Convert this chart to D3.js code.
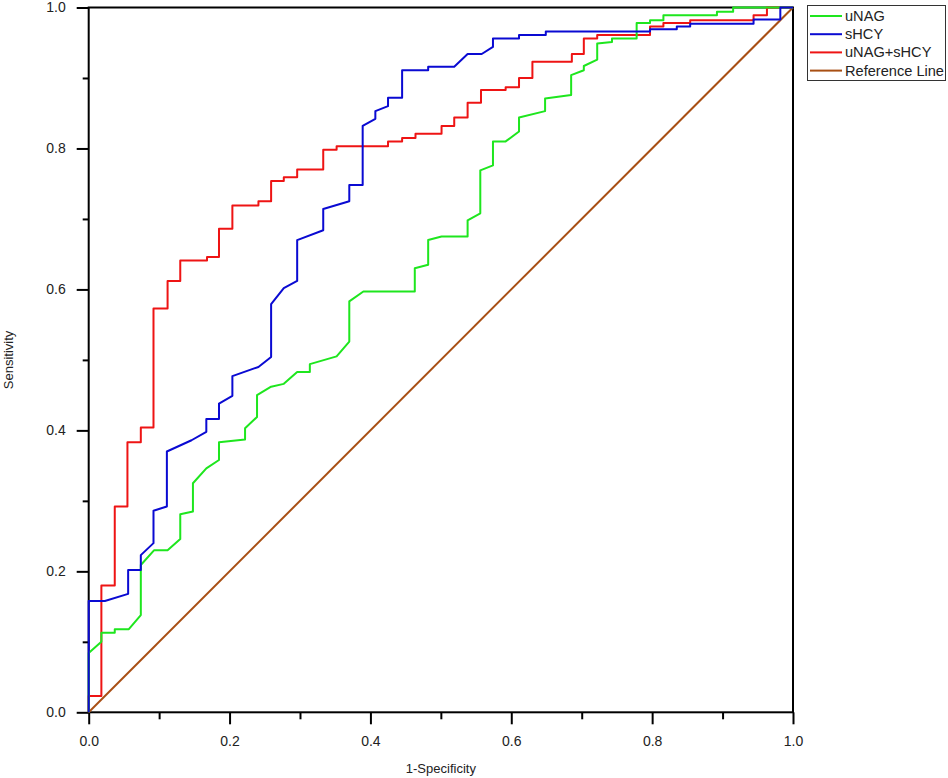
<!DOCTYPE html>
<html lang="en">
<head>
  <meta charset="UTF-8">
  <title>ROC curves</title>
  <script src="https://d3js.org/d3.v7.min.js"></script>
  <style>
    body { margin: 0; background: #fff; }
    text { font-family: "Liberation Sans", Arial, sans-serif; fill: #222; }
    .curve { fill: none; stroke-width: 2; stroke-linejoin: round; }
  </style>
</head>
<body>
<script>
  // ROC points: [1-specificity, sensitivity]
  const uNAG = [
    [0, 0], [0, 0.084], [0.018, 0.100], [0.018, 0.113], [0.037, 0.113], [0.037, 0.118],
    [0.057, 0.118], [0.074, 0.138], [0.074, 0.209], [0.093, 0.230], [0.112, 0.230],
    [0.130, 0.246], [0.130, 0.281], [0.148, 0.285], [0.148, 0.325], [0.167, 0.346],
    [0.185, 0.358], [0.185, 0.383], [0.222, 0.387], [0.222, 0.403], [0.239, 0.419],
    [0.239, 0.450], [0.259, 0.462], [0.277, 0.466], [0.296, 0.483], [0.314, 0.483],
    [0.314, 0.494], [0.352, 0.505], [0.370, 0.526], [0.370, 0.583], [0.390, 0.597],
    [0.463, 0.597], [0.463, 0.630], [0.482, 0.635], [0.482, 0.670], [0.501, 0.675],
    [0.538, 0.675], [0.538, 0.698], [0.556, 0.708], [0.556, 0.769], [0.574, 0.776],
    [0.574, 0.810], [0.592, 0.810], [0.611, 0.824], [0.611, 0.844], [0.648, 0.853],
    [0.648, 0.871], [0.685, 0.876], [0.685, 0.904], [0.703, 0.911], [0.703, 0.917],
    [0.722, 0.926], [0.722, 0.949], [0.743, 0.951], [0.743, 0.956], [0.778, 0.956],
    [0.778, 0.978], [0.797, 0.978], [0.797, 0.982], [0.816, 0.982], [0.816, 0.989],
    [0.892, 0.989], [0.892, 0.994], [0.915, 0.994], [0.915, 1], [1, 1]
  ];

  const sHCY = [
    [0, 0], [0, 0.158], [0.023, 0.158], [0.056, 0.168], [0.056, 0.202], [0.074, 0.202],
    [0.074, 0.223], [0.092, 0.240], [0.092, 0.286], [0.111, 0.292], [0.111, 0.370],
    [0.146, 0.386], [0.167, 0.398], [0.167, 0.416], [0.185, 0.416], [0.185, 0.438],
    [0.204, 0.449], [0.204, 0.477], [0.241, 0.490], [0.259, 0.504], [0.259, 0.579],
    [0.277, 0.602], [0.296, 0.612], [0.296, 0.670], [0.333, 0.684], [0.333, 0.714],
    [0.370, 0.725], [0.370, 0.748], [0.389, 0.748], [0.389, 0.832], [0.407, 0.842],
    [0.407, 0.853], [0.425, 0.860], [0.425, 0.872], [0.445, 0.872], [0.445, 0.911],
    [0.482, 0.911], [0.482, 0.916], [0.519, 0.916], [0.538, 0.934], [0.558, 0.934],
    [0.574, 0.944], [0.574, 0.956], [0.611, 0.956], [0.611, 0.961], [0.649, 0.961],
    [0.649, 0.966], [0.797, 0.966], [0.797, 0.969], [0.835, 0.969], [0.835, 0.973],
    [0.854, 0.973], [0.854, 0.977], [0.944, 0.977], [0.944, 0.983], [0.982, 0.983],
    [0.982, 1], [1, 1]
  ];

  const combined = [
    [0, 0], [0, 0.023], [0.018, 0.023], [0.018, 0.180], [0.037, 0.180], [0.037, 0.292],
    [0.055, 0.292], [0.055, 0.383], [0.074, 0.383], [0.074, 0.404], [0.092, 0.404],
    [0.092, 0.573], [0.112, 0.573], [0.112, 0.612], [0.130, 0.612], [0.130, 0.641],
    [0.168, 0.641], [0.168, 0.646], [0.185, 0.646], [0.185, 0.686], [0.204, 0.686],
    [0.204, 0.719], [0.241, 0.719], [0.241, 0.725], [0.259, 0.725], [0.259, 0.754],
    [0.277, 0.754], [0.277, 0.759], [0.296, 0.759], [0.296, 0.770], [0.333, 0.770],
    [0.333, 0.798], [0.352, 0.798], [0.352, 0.803], [0.425, 0.803], [0.425, 0.810],
    [0.445, 0.810], [0.445, 0.815], [0.464, 0.815], [0.464, 0.821], [0.501, 0.821],
    [0.501, 0.832], [0.519, 0.832], [0.519, 0.844], [0.538, 0.844], [0.538, 0.865],
    [0.557, 0.865], [0.557, 0.883], [0.592, 0.883], [0.592, 0.887], [0.611, 0.887],
    [0.611, 0.900], [0.630, 0.900], [0.630, 0.923], [0.686, 0.923], [0.686, 0.934],
    [0.703, 0.934], [0.703, 0.956], [0.722, 0.956], [0.722, 0.961], [0.797, 0.961],
    [0.797, 0.973], [0.816, 0.973], [0.816, 0.978], [0.854, 0.978], [0.854, 0.982],
    [0.944, 0.982], [0.944, 0.989], [0.963, 0.989], [0.963, 1], [1, 1]
  ];

  const referenceLine = [[0, 0], [1, 1]];

  const seriesNames = ['uNAG', 'sHCY', 'uNAG+sHCY', 'Reference Line'];
  const seriesColors = ['#1ee61e', '#0a0ad2', '#ee1414', '#a84f14'];
  const majorTicks = [0, 0.2, 0.4, 0.6, 0.8, 1.0];
  const minorTicks = [0.1, 0.3, 0.5, 0.7, 0.9];

  // Layout
  const width = 948, height = 778;
  const plot = {left: 88.7, right: 793, top: 7.5, bottom: 712.3};

  const svg = d3.select('body').append('svg')
    .attr('width', width)
    .attr('height', height);

  const x = d3.scaleLinear().domain([0, 1]).range([plot.left, plot.right]);
  const y = d3.scaleLinear().domain([0, 1]).range([plot.bottom, plot.top]);

  // Axes (major ticks labelled, minor ticks short)
  const fmt = d3.format('.1f');
  svg.append('g').attr('transform', `translate(0,${plot.bottom})`)
    .call(d3.axisBottom(x).tickValues(majorTicks).tickSize(12).tickPadding(12).tickFormat(fmt));
  svg.append('g').attr('transform', `translate(0,${plot.bottom})`)
    .call(d3.axisBottom(x).tickValues(minorTicks).tickSize(7).tickFormat(''));

  svg.append('g').attr('transform', `translate(${plot.left},0)`)
    .call(d3.axisLeft(y).tickValues(majorTicks).tickSize(12).tickPadding(11).tickFormat(fmt));
  svg.append('g').attr('transform', `translate(${plot.left},0)`)
    .call(d3.axisLeft(y).tickValues(minorTicks).tickSize(6).tickFormat(''));

  svg.selectAll('.tick line').attr('stroke', '#000').attr('stroke-width', 2);
  svg.selectAll('.domain').remove();
  svg.selectAll('.tick text')
    .style('font-size', '14px')
    .style('font-family', '"Liberation Sans", Arial, sans-serif')
    .attr('fill', '#222');

  // Frame around the plot
  svg.append('rect')
    .attr('x', x(0)).attr('y', y(1))
    .attr('width', x(1) - x(0)).attr('height', y(0) - y(1))
    .attr('fill', 'none').attr('stroke', '#000').attr('stroke-width', 2);

  // Curves
  const line = d3.line().x(d => x(d[0])).y(d => y(d[1]));

  svg.append('path').datum(referenceLine)
    .attr('class', 'curve').attr('d', line)
    .attr('stroke', seriesColors[3]).attr('stroke-width', 1.6);

  [[combined, 2], [uNAG, 0], [sHCY, 1]].forEach(([data, i]) => {
    svg.append('path').datum(data)
      .attr('class', 'curve').attr('d', line)
      .attr('stroke', seriesColors[i]);
  });

  // Axis titles
  svg.append('text')
    .attr('x', (plot.left + plot.right) / 2)
    .attr('y', 773)
    .attr('text-anchor', 'middle')
    .style('font-size', '13px')
    .text('1-Specificity');

  svg.append('text')
    .attr('transform', `translate(13,${(plot.top + plot.bottom) / 2}) rotate(-90)`)
    .attr('text-anchor', 'middle')
    .style('font-size', '13px')
    .text('Sensitivity');

  // Legend
  const legend = svg.append('g');
  legend.append('rect')
    .attr('x', 807.5).attr('y', 5.5)
    .attr('width', 138).attr('height', 75)
    .attr('fill', '#fff').attr('stroke', '#333').attr('stroke-width', 1);

  seriesNames.forEach((name, i) => {
    const yy = 16 + i * 18.2;
    legend.append('line')
      .attr('x1', 810).attr('x2', 842)
      .attr('y1', yy).attr('y2', yy)
      .attr('stroke', seriesColors[i]).attr('stroke-width', 2);
    legend.append('text')
      .attr('x', 845).attr('y', yy + 5)
      .style('font-size', '14.6px')
      .text(name);
  });
</script>
</body>
</html>
